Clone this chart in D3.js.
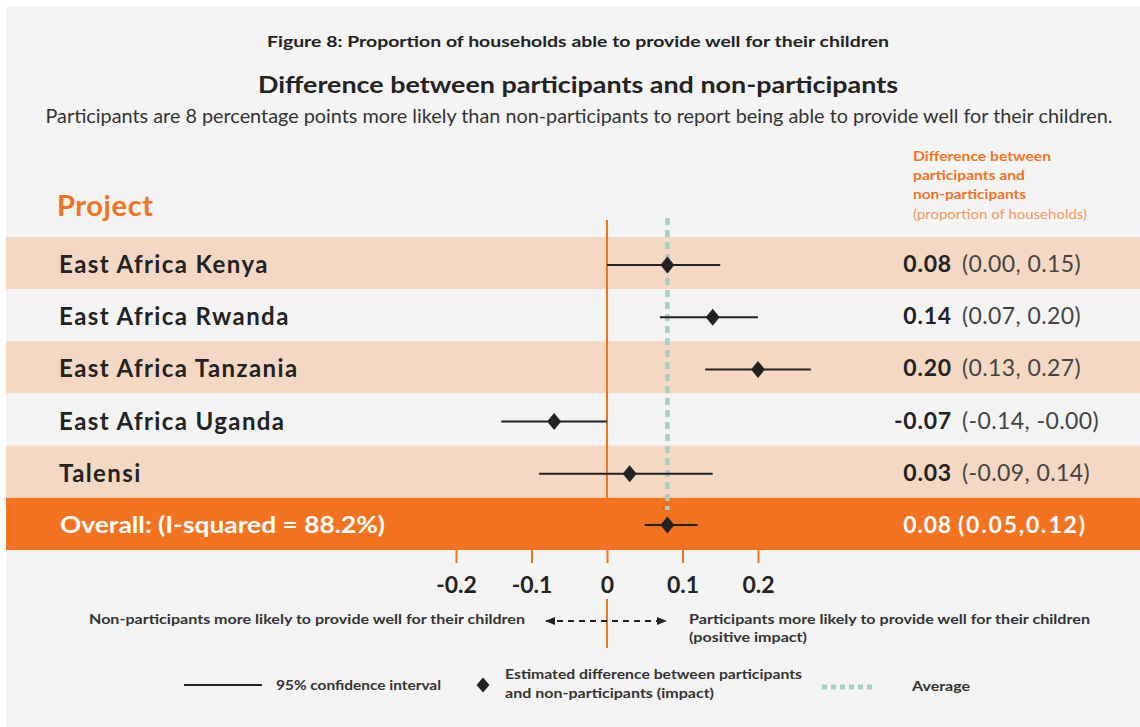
<!DOCTYPE html>
<html>
<head>
<meta charset="utf-8">
<script src="https://cdn.jsdelivr.net/npm/d3@7"></script>
<style>
  html, body { margin: 0; padding: 0; background: #ffffff; }
  svg { display: block; font-family: Lato, "Open Sans", sans-serif; }
</style>
</head>
<body>
<svg id="chart" width="1140" height="727"></svg>
<script>
// Forest plot data: project estimates with 95% confidence intervals
const projects = ["East Africa Kenya", "East Africa Rwanda", "East Africa Tanzania", "East Africa Uganda", "Talensi"];
const estimates = [0.08, 0.14, 0.20, -0.07, 0.03];
const ciLow = [0.00, 0.07, 0.13, -0.14, -0.09];
const ciHigh = [0.15, 0.20, 0.27, -0.00, 0.14];
const ciLowLabels = ["0.00", "0.07", "0.13", "-0.14", "-0.09"];
const ciHighLabels = ["0.15", "0.20", "0.27", "-0.00", "0.14"];

const overallLabel = "Overall: (I-squared = 88.2%)";
const overallEstimate = 0.08;
const overallLow = 0.05;
const overallHigh = 0.12;
const averageValue = 0.08;

const tickValues = [-0.2, -0.1, 0, 0.1, 0.2];
const tickLabels = ["-0.2", "-0.1", "0", "0.1", "0.2"];

const ORANGE = "#f37321";
const PEACH = "#f5d8c3";
const BG = "#f4f4f4";
const DARK = "#222222";
const TEAL = "#a3cfc4";

const svg = d3.select("#chart");

// Panel background
svg.append("rect").attr("x", 6).attr("y", 6).attr("width", 1134).attr("height", 721).attr("fill", BG);

// Scales
const x = d3.scaleLinear().domain([-0.2, 0.2]).range([456, 758]);
const rowKeys = projects.concat([overallLabel]);
const y = d3.scaleBand().domain(rowKeys).range([237, 550]);
const yc = d => y(d) + y.bandwidth() / 2;

// Two-decimal format with a plain hyphen for negatives
const fmt = v => d3.format(".2f")(v).replace("\u2212", "-");

// Titles
svg.append("text").attr("x", 578).attr("y", 47).attr("text-anchor", "middle")
  .attr("font-size", 15).attr("font-weight", 700).attr("fill", DARK)
  .attr("textLength", 622).attr("lengthAdjust", "spacingAndGlyphs")
  .text("Figure 8: Proportion of households able to provide well for their children");
svg.append("text").attr("x", 578).attr("y", 93).attr("text-anchor", "middle")
  .attr("font-size", 23).attr("font-weight", 700).attr("fill", DARK)
  .attr("textLength", 640).attr("lengthAdjust", "spacingAndGlyphs")
  .text("Difference between participants and non-participants");
svg.append("text").attr("x", 579).attr("y", 123).attr("text-anchor", "middle")
  .attr("font-size", 19).attr("fill", "#333")
  .attr("textLength", 1067).attr("lengthAdjust", "spacingAndGlyphs")
  .text("Participants are 8 percentage points more likely than non-participants to report being able to provide well for their children.");

// Column headers
svg.append("text").attr("x", 57).attr("y", 216)
  .attr("font-size", 29).attr("font-weight", 700).attr("fill", ORANGE)
  .attr("letter-spacing", 0.6).text("Project");

const hdr = svg.append("g").attr("font-size", 13.5).attr("fill", ORANGE);
[["Difference between", 161, 700, 138], ["participants and", 180, 700, 112], ["non-participants", 199, 700, 113]]
  .forEach(([t, yy, w, len]) => {
    hdr.append("text").attr("x", 913).attr("y", yy).attr("font-weight", w)
      .attr("textLength", len).attr("lengthAdjust", "spacingAndGlyphs").text(t);
  });
hdr.append("text").attr("x", 913).attr("y", 219).attr("fill", "#f39a5c")
  .attr("textLength", 174).attr("lengthAdjust", "spacingAndGlyphs")
  .text("(proportion of households)");

// Row bands
svg.append("g").selectAll("rect").data(rowKeys).join("rect")
  .attr("x", 6).attr("width", 1134)
  .attr("y", d => y(d)).attr("height", y.bandwidth())
  .attr("fill", (d, i) => i === rowKeys.length - 1 ? ORANGE : (i % 2 === 0 ? PEACH : BG));

// Zero reference line
svg.append("line").attr("x1", x(0)).attr("x2", x(0)).attr("y1", 220).attr("y2", y(overallLabel))
  .attr("stroke", ORANGE).attr("stroke-width", 2);

// Average dotted line
svg.append("line").attr("x1", x(averageValue)).attr("x2", x(averageValue)).attr("y1", 218).attr("y2", 510)
  .attr("stroke", TEAL).attr("stroke-width", 4.5).attr("stroke-dasharray", "7,5");

// Confidence intervals and estimates
const diamond = (cx, cy, w, h) => `M${cx},${cy - h}L${cx + w},${cy}L${cx},${cy + h}L${cx - w},${cy}Z`;
const marks = svg.append("g");
projects.forEach((p, i) => {
  const cy = yc(p) + 2;
  marks.append("line").attr("x1", x(ciLow[i])).attr("x2", x(ciHigh[i])).attr("y1", cy).attr("y2", cy)
    .attr("stroke", DARK).attr("stroke-width", 2);
  marks.append("path").attr("d", diamond(x(estimates[i]), cy, 7, 8.5)).attr("fill", DARK);
});
{
  const cy = yc(overallLabel) + 1;
  marks.append("line").attr("x1", x(overallLow)).attr("x2", x(overallHigh)).attr("y1", cy).attr("y2", cy)
    .attr("stroke", DARK).attr("stroke-width", 2);
  marks.append("path").attr("d", diamond(x(overallEstimate), cy, 7, 8.5)).attr("fill", DARK);
}

// Row labels
svg.append("g").selectAll("text").data(projects).join("text")
  .attr("x", 59).attr("y", d => yc(d) + 10)
  .attr("font-size", 24).attr("font-weight", 700).attr("fill", DARK)
  .attr("letter-spacing", 1.4)
  .text(d => d);
svg.append("text").attr("x", 60).attr("y", yc(overallLabel) + 9)
  .attr("font-size", 23).attr("font-weight", 700).attr("fill", "#ffffff")
  .attr("textLength", 325).attr("lengthAdjust", "spacingAndGlyphs")
  .text(overallLabel);

// Value labels
const vals = svg.append("g").attr("font-size", 23);
projects.forEach((p, i) => {
  vals.append("text").attr("x", 952).attr("y", yc(p) + 9).attr("text-anchor", "end")
    .attr("font-weight", 700).attr("fill", DARK).attr("letter-spacing", 0.8).text(fmt(estimates[i]));
  vals.append("text").attr("x", 962).attr("y", yc(p) + 9)
    .attr("fill", "#444").attr("letter-spacing", 0.4)
    .text(`(${ciLowLabels[i]}, ${ciHighLabels[i]})`);
});
vals.append("text").attr("x", 952).attr("y", yc(overallLabel) + 9).attr("text-anchor", "end")
  .attr("font-weight", 700).attr("fill", "#fff").attr("letter-spacing", 0.8).text(fmt(overallEstimate));
vals.append("text").attr("x", 958).attr("y", yc(overallLabel) + 9)
  .attr("font-weight", 700).attr("fill", "#fff").attr("letter-spacing", 1.8)
  .text(`(${fmt(overallLow)},${fmt(overallHigh)})`);

// Axis
const axis = svg.append("g").attr("transform", `translate(0,550)`)
  .call(d3.axisBottom(x).tickValues(tickValues).tickFormat((d, i) => tickLabels[i]).tickSize(13).tickPadding(14));
axis.select(".domain").remove();
axis.selectAll(".tick line").attr("stroke", ORANGE).attr("stroke-width", 2);
axis.selectAll(".tick text").attr("font-size", 23).attr("font-weight", 700).attr("fill", DARK)
  .attr("font-family", "Lato, sans-serif");

// Direction legend
const defs = svg.append("defs");
defs.append("marker").attr("id", "arrowEnd").attr("viewBox", "0 0 10 10").attr("refX", 9).attr("refY", 5)
  .attr("markerWidth", 5).attr("markerHeight", 5).attr("orient", "auto-start-reverse")
  .append("path").attr("d", "M0,1L10,5L0,9Z").attr("fill", DARK);

svg.append("line").attr("x1", x(0)).attr("x2", x(0)).attr("y1", 599).attr("y2", 648)
  .attr("stroke", ORANGE).attr("stroke-width", 2);
svg.append("line").attr("x1", 546).attr("x2", 666).attr("y1", 621).attr("y2", 621)
  .attr("stroke", DARK).attr("stroke-width", 2).attr("stroke-dasharray", "6,5")
  .attr("marker-start", "url(#arrowEnd)").attr("marker-end", "url(#arrowEnd)");

const leg = svg.append("g").attr("font-size", 13.5).attr("font-weight", 700).attr("fill", "#333");
leg.append("text").attr("x", 89).attr("y", 624).attr("textLength", 436).attr("lengthAdjust", "spacingAndGlyphs")
  .text("Non-participants more likely to provide well for their children");
leg.append("text").attr("x", 689).attr("y", 624).attr("textLength", 401).attr("lengthAdjust", "spacingAndGlyphs")
  .text("Participants more likely to provide well for their children");
leg.append("text").attr("x", 689).attr("y", 642).attr("textLength", 118).attr("lengthAdjust", "spacingAndGlyphs")
  .text("(positive impact)");

// Symbol legend
svg.append("line").attr("x1", 184).attr("x2", 262).attr("y1", 685).attr("y2", 685)
  .attr("stroke", DARK).attr("stroke-width", 2);
leg.append("text").attr("x", 276).attr("y", 690).attr("textLength", 165).attr("lengthAdjust", "spacingAndGlyphs")
  .text("95% confidence interval");
svg.append("path").attr("d", diamond(483, 685, 6.5, 7.5)).attr("fill", DARK);
leg.append("text").attr("x", 505).attr("y", 679).attr("textLength", 297).attr("lengthAdjust", "spacingAndGlyphs")
  .text("Estimated difference between participants");
leg.append("text").attr("x", 505).attr("y", 698).attr("textLength", 209).attr("lengthAdjust", "spacingAndGlyphs")
  .text("and non-participants (impact)");
svg.append("line").attr("x1", 822).attr("x2", 874).attr("y1", 687).attr("y2", 687)
  .attr("stroke", TEAL).attr("stroke-width", 5).attr("stroke-dasharray", "5,4");
leg.append("text").attr("x", 912).attr("y", 691).attr("textLength", 58).attr("lengthAdjust", "spacingAndGlyphs")
  .text("Average");
</script>
</body>
</html>
